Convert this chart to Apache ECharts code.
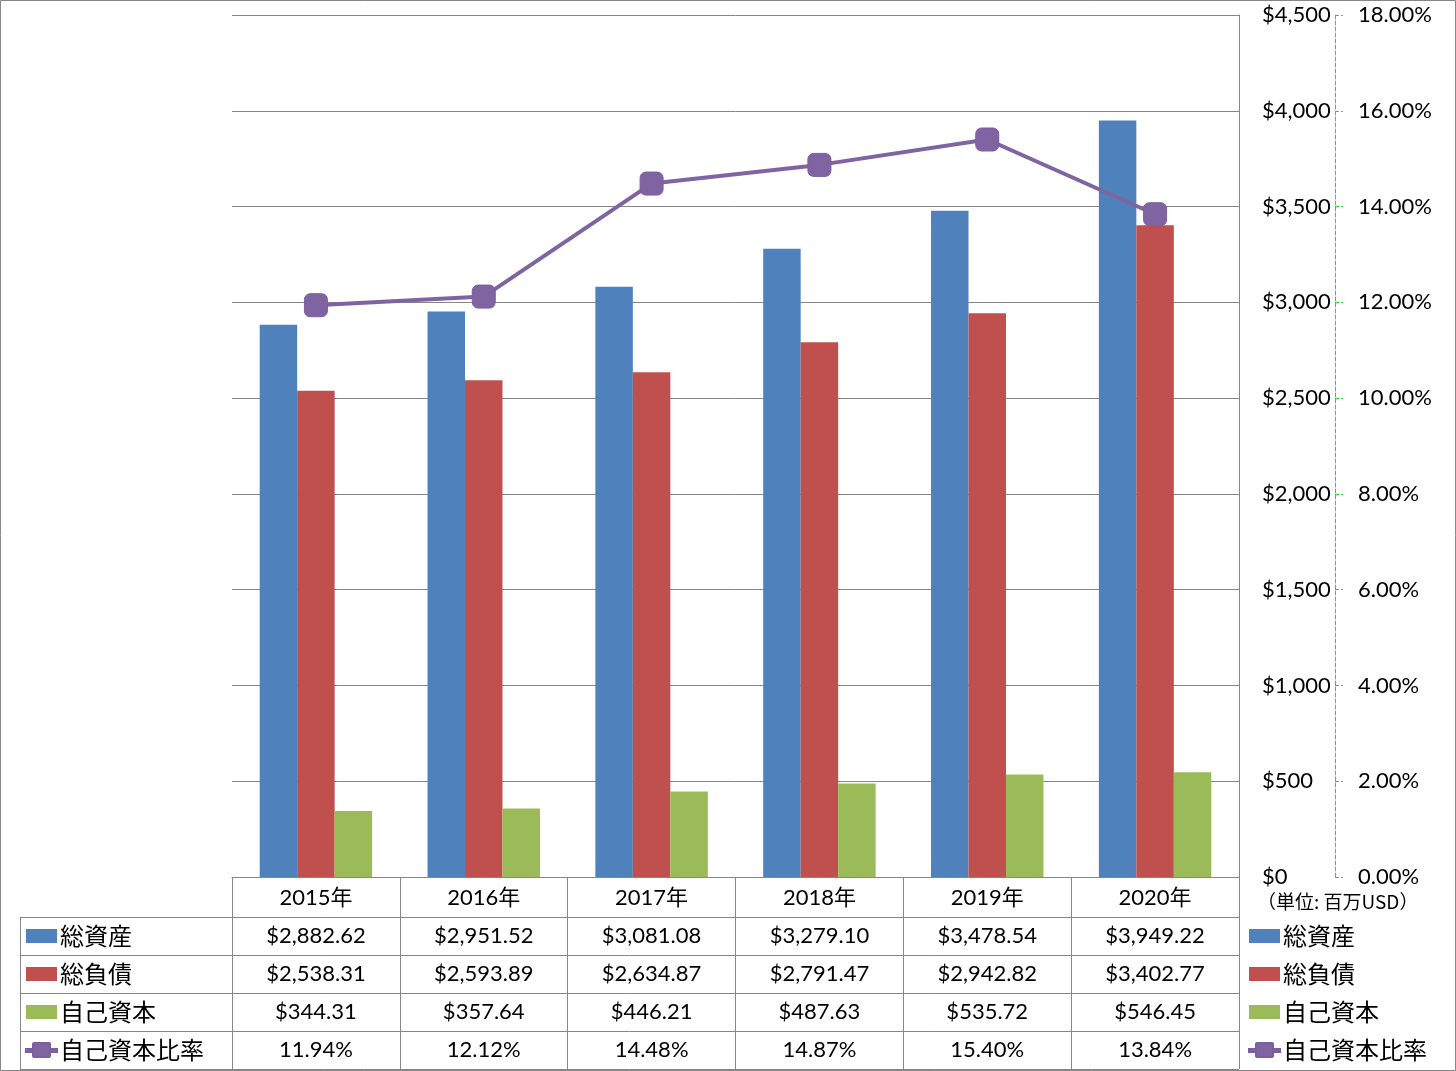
<!DOCTYPE html>
<html>
<head>
<meta charset="utf-8">
<script src="https://cdn.jsdelivr.net/npm/echarts@6/dist/echarts.min.js"></script>
<style>
html,body{margin:0;padding:0;background:#fff;}
#chart{width:1456px;height:1071px;}
</style>
</head>
<body>
<div id="chart"></div>
<script>
// ---- data ----
const years = ['2015年', '2016年', '2017年', '2018年', '2019年', '2020年'];
const totalAssets = [2882.62, 2951.52, 3081.08, 3279.10, 3478.54, 3949.22];
const totalLiabilities = [2538.31, 2593.89, 2634.87, 2791.47, 2942.82, 3402.77];
const equity = [344.31, 357.64, 446.21, 487.63, 535.72, 546.45];
const equityRatio = [11.94, 12.12, 14.48, 14.87, 15.40, 13.84];
const seriesNames = ['総資産', '総負債', '自己資本', '自己資本比率'];
const leftTicks = [0, 4500, 500];   // min, max, interval ($ million)
const rightTicks = [0, 18, 2];      // min, max, interval (%)
const unitLabel = '（単位: 百万USD）';

// ---- style ----
const COLORS = ['#4F81BD', '#C0504D', '#9BBB59', '#8064A2'];
const GRID = '#868686';
const FONT = "Lato, 'Noto Sans CJK JP', sans-serif";
const JFONT = "'Noto Sans CJK JP', sans-serif";
const ROW = 38;
const LINE_ICON = 'path://M0,6 L7,6 L7,1 Q7,0 8,0 L23,0 Q24,0 24,1 L24,6 L31,6 L31,9 L24,9 L24,13 Q24,14 23,14 L8,14 Q7,14 7,13 L7,9 L0,9 Z';

const money = v => '$' + v.toLocaleString('en-US', {minimumFractionDigits: 2, maximumFractionDigits: 2});
const chart = echarts.init(document.getElementById('chart'));

const legendData = seriesNames.map((n, i) => ({name: n, icon: i < 3 ? 'rect' : LINE_ICON}));
const legendCommon = {
  orient: 'vertical',
  padding: 0,
  itemWidth: 31,
  itemHeight: 14,
  itemGap: 0,
  data: legendData,
  textStyle: {fontFamily: JFONT, fontSize: 24, color: '#000', lineHeight: ROW, padding: [0, 0, 0, -2]}
};

const tableLines = [];
const tableRowTop = 917;
for (let i = 0; i < 5; i++) {
  const y = tableRowTop + i * ROW + 0.5;
  tableLines.push({type: 'line', shape: {x1: 20, y1: y, x2: 1239, y2: y}, style: {stroke: GRID, lineWidth: 1}, silent: true});
}
tableLines.push({type: 'line', shape: {x1: 20.5, y1: tableRowTop, x2: 20.5, y2: tableRowTop + 4 * ROW}, style: {stroke: GRID, lineWidth: 1}, silent: true});

chart.setOption({
  animation: false,
  backgroundColor: '#fff',
  color: COLORS,
  grid: {left: 232, right: 217, top: 15, bottom: 194, containLabel: false},
  legend: [
    Object.assign({left: 1248, top: 917, height: 154}, legendCommon),
    Object.assign({left: 25, top: 917, height: 154}, legendCommon)
  ],
  graphic: [
    {type: 'rect', shape: {x: 0.5, y: 0.5, width: 1455, height: 1070}, style: {fill: null, stroke: GRID, lineWidth: 1}, silent: true},
    {type: 'text', left: 1257, top: 892, style: {text: unitLabel, font: "19px 'Noto Sans CJK JP'", fill: '#000'}, silent: true}
  ].concat(tableLines),
  xAxis: {
    type: 'category',
    data: years,
    axisLine: {lineStyle: {color: GRID, width: 1}},
    axisTick: {show: true, interval: 0, alignWithLabel: false, length: 192, lineStyle: {color: GRID}},
    axisLabel: {
      interval: 0,
      margin: 2,
      fontFamily: FONT,
      fontSize: 22,
      color: '#000',
      lineHeight: ROW,
      formatter: (v, i) => [
        v,
        money(totalAssets[i]),
        money(totalLiabilities[i]),
        money(equity[i]),
        equityRatio[i].toFixed(2) + '%'
      ].join('\n')
    }
  },
  yAxis: [
    {
      type: 'value', position: 'right',
      min: leftTicks[0], max: leftTicks[1], interval: leftTicks[2],
      axisLine: {show: true, lineStyle: {color: GRID}},
      axisTick: {show: false},
      splitLine: {show: true, lineStyle: {color: GRID, width: 1}},
      axisLabel: {margin: 23, fontFamily: FONT, fontSize: 22, color: '#000',
        formatter: v => '$' + v.toLocaleString('en-US')}
    },
    {
      type: 'value', position: 'right', offset: 96,
      min: rightTicks[0], max: rightTicks[1], interval: rightTicks[2],
      axisLine: {show: true, lineStyle: {color: '#22DD22', type: 'dashed', width: 1}},
      axisTick: {show: true, inside: false, length: 8, lineStyle: {color: '#22DD22', type: 'dashed'}},
      splitLine: {show: false},
      axisLabel: {margin: 23, fontFamily: FONT, fontSize: 22, color: '#000',
        formatter: v => v.toFixed(2) + '%'}
    }
  ],
  series: [
    {name: seriesNames[0], type: 'bar', data: totalAssets, barGap: '0%', barCategoryGap: '33%'},
    {name: seriesNames[1], type: 'bar', data: totalLiabilities, barGap: '0%', barCategoryGap: '33%'},
    {name: seriesNames[2], type: 'bar', data: equity, barGap: '0%', barCategoryGap: '33%'},
    {name: seriesNames[3], type: 'line', yAxisIndex: 1, data: equityRatio,
      symbol: 'roundRect', symbolSize: 23, z: 5,
      lineStyle: {width: 4, color: COLORS[3]},
      itemStyle: {color: COLORS[3], borderColor: '#7A5E9E', borderWidth: 1}}
  ]
});
</script>
</body>
</html>
